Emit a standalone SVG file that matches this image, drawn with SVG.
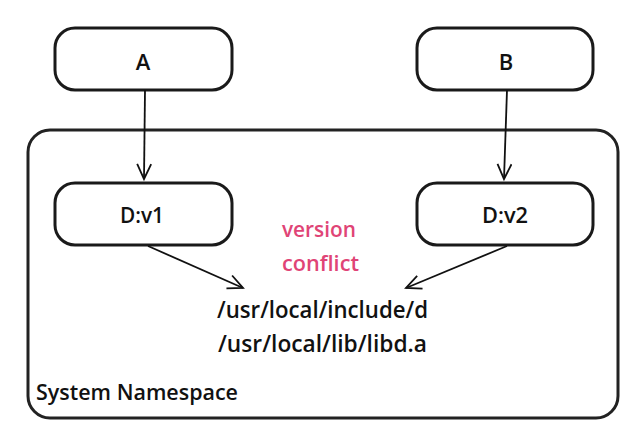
<svg xmlns="http://www.w3.org/2000/svg" width="642" height="446" viewBox="0 0 642 446">
<style>
.box{fill:#fff;stroke:#1a1a1a;stroke-width:3}
.outer{fill:#fff;stroke:#222;stroke-width:3}
.lbl{font-family:"Open Sans","Liberation Sans",Arial,sans-serif;font-size:22px;font-weight:600;fill:#111;text-anchor:middle}
.path{font-family:"Open Sans","Liberation Sans",Arial,sans-serif;font-size:23px;font-weight:600;fill:#111}
.pink{font-family:"Open Sans","Liberation Sans",Arial,sans-serif;font-size:21px;font-weight:600;fill:#e04476}
.ns{font-family:"Open Sans","Liberation Sans",Arial,sans-serif;font-size:21px;font-weight:600;fill:#111}
.edge{fill:none;stroke:#111;stroke-width:1.8}
</style>
<defs>
<marker id="arr" markerUnits="userSpaceOnUse" markerWidth="20" markerHeight="18" refX="16" refY="8" orient="auto">
<path d="M1,1 L16,8 L1,15" fill="none" stroke="#111" stroke-width="1.8"/>
</marker>
</defs>
<rect width="642" height="446" fill="#fff"/>
<g id="system-namespace">
<rect class="outer" x="28" y="130" width="590" height="288" rx="22"/>
<text class="ns" x="36" y="400" textLength="202" lengthAdjust="spacingAndGlyphs">System Namespace</text>
</g>
<g id="node-A">
<rect class="box" x="55" y="28" width="177" height="62" rx="20"/>
<text class="lbl" x="143" y="70">A</text>
</g>
<g id="node-B">
<rect class="box" x="417" y="28" width="176" height="62" rx="20"/>
<text class="lbl" x="506" y="70">B</text>
</g>
<g id="node-Dv1">
<rect class="box" x="55" y="183" width="177" height="62" rx="20"/>
<text class="lbl" x="142" y="223" textLength="44" lengthAdjust="spacingAndGlyphs">D:v1</text>
</g>
<g id="node-Dv2">
<rect class="box" x="417" y="183" width="176" height="62" rx="20"/>
<text class="lbl" x="505" y="223" textLength="46" lengthAdjust="spacingAndGlyphs">D:v2</text>
</g>
<g id="node-conflict">
<text class="pink" x="282" y="237" textLength="74" lengthAdjust="spacingAndGlyphs">version</text>
<text class="pink" x="282" y="271" textLength="77" lengthAdjust="spacingAndGlyphs">conflict</text>
</g>
<g id="node-paths">
<text class="path" x="217" y="318" textLength="211" lengthAdjust="spacingAndGlyphs">/usr/local/include/d</text>
<text class="path" x="218" y="352" textLength="209" lengthAdjust="spacingAndGlyphs">/usr/local/lib/libd.a</text>
</g>
<g id="connectors">
<path class="edge" d="M145,90 L144,179" marker-end="url(#arr)"/>
<path class="edge" d="M507,90 L504,179" marker-end="url(#arr)"/>
<path class="edge" d="M148,246 L243,288" marker-end="url(#arr)"/>
<path class="edge" d="M507,246 L406,288" marker-end="url(#arr)"/>
</g>
</svg>
